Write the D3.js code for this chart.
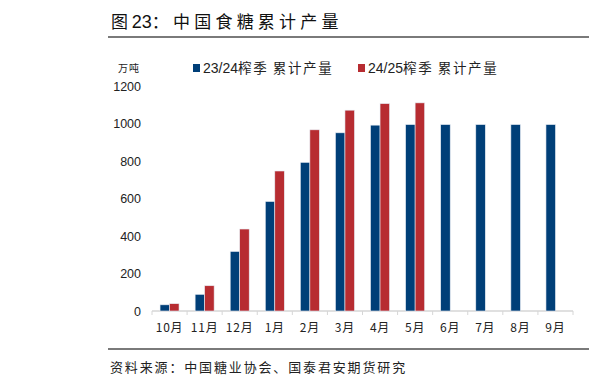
<!DOCTYPE html>
<html><head><meta charset="utf-8">
<script src="https://cdn.jsdelivr.net/npm/d3@7"></script>
<style>body{margin:0;background:#fff}svg{display:block}</style>
</head><body>
<svg id="c" width="593" height="385"></svg>
<script>
const months = ["10月","11月","12月","1月","2月","3月","4月","5月","6月","7月","8月","9月"];
const season2324 = [33, 89, 318, 585, 794, 952, 993, 996, 996, 996, 996, 996];
const season2425 = [39, 135, 438, 748, 968, 1073, 1108, 1112, null, null, null, null];
const seriesCodes = ["23/24", "24/25"];
const seriesSuffix = "榨季 累计产量";
const yTicks = [0, 200, 400, 600, 800, 1000, 1200];
const colors = ["#003F78", "#B72C31"];

const svg = d3.select("#c");
const cjk = "'Noto Sans CJK SC', sans-serif";
const num = "'Liberation Sans', Arial, sans-serif";

// title
const tt = svg.append("text").attr("x", 111).attr("y", 28).attr("font-size", 17).attr("fill", "#111");
tt.append("tspan").attr("font-family", cjk).text("图 ");
tt.append("tspan").attr("font-family", num).attr("font-size", 18).text("23");
tt.append("tspan").attr("font-family", cjk).attr("letter-spacing", 4.2).text("：中国食糖累计产量");
svg.append("line").attr("x1", 108).attr("x2", 589).attr("y1", 37).attr("y2", 37)
  .attr("stroke", "#7a7a7a").attr("stroke-width", 2);

// bottom
svg.append("line").attr("x1", 108).attr("x2", 589).attr("y1", 349).attr("y2", 349)
  .attr("stroke", "#7a7a7a").attr("stroke-width", 2);
svg.append("text").attr("x", 110).attr("y", 372).attr("font-family", cjk)
  .attr("font-size", 13).attr("letter-spacing", 1.85).attr("fill", "#222").text("资料来源：中国糖业协会、国泰君安期货研究");

const x = d3.scaleBand().domain(months).range([152, 573]).padding(0);
const y = d3.scaleLinear().domain([0, 1200]).range([311, 86.4]);
const bw = 9.5;

// y labels
svg.append("g").selectAll("text").data(yTicks).join("text")
  .attr("x", 141).attr("y", d => y(d)).attr("dy", "0.36em")
  .attr("text-anchor", "end").attr("font-family", num).attr("font-size", 12.5)
  .attr("fill", "#222").text(d => d);
svg.append("text").attr("x", 118).attr("y", 72).attr("font-family", cjk)
  .attr("font-size", 10).attr("letter-spacing", 1).attr("fill", "#222").text("万吨");

// axis
const ax = svg.append("g").attr("transform", "translate(0,311)");
ax.append("line").attr("x1", 152).attr("x2", 573).attr("stroke", "#d6d6d6").attr("stroke-width", 1.5);
ax.selectAll("line.t").data(months.concat(["end"])).join("line").attr("class", "t")
  .attr("x1", (d, i) => 152 + i * x.bandwidth()).attr("x2", (d, i) => 152 + i * x.bandwidth())
  .attr("y1", 0).attr("y2", 4).attr("stroke", "#d6d6d6");
svg.append("g").selectAll("text").data(months).join("text")
  .attr("x", d => x(d) + x.bandwidth() / 2).attr("y", 332)
  .attr("text-anchor", "middle").attr("font-family", cjk).attr("font-size", 12)
  .attr("letter-spacing", 0.8).attr("fill", "#222").text(d => d);

// bars
const all = [season2324, season2425];
all.forEach((vals, si) => {
  svg.append("g").selectAll("rect").data(months.map((m, i) => ({m, v: vals[i]})).filter(d => d.v != null))
    .join("rect")
    .attr("x", d => x(d.m) + x.bandwidth() / 2 - bw + si * bw)
    .attr("width", bw)
    .attr("y", d => y(d.v))
    .attr("height", d => y(0) - y(d.v))
    .attr("fill", colors[si])
    .attr("stroke", "#e6ecf3").attr("stroke-width", 0.6);
});

// legend
const lx = [193, 358];
seriesCodes.forEach((c, i) => {
  svg.append("rect").attr("x", lx[i]).attr("y", 64).attr("width", 7).attr("height", 8).attr("fill", colors[i]);
  const t = svg.append("text").attr("x", lx[i] + 10).attr("y", 73).attr("fill", "#222");
  t.append("tspan").attr("font-family", num).attr("font-size", 14).text(c);
  t.append("tspan").attr("font-family", cjk).attr("font-size", 13.5).attr("letter-spacing", 1.6).text(seriesSuffix);
});
</script>
</body></html>
